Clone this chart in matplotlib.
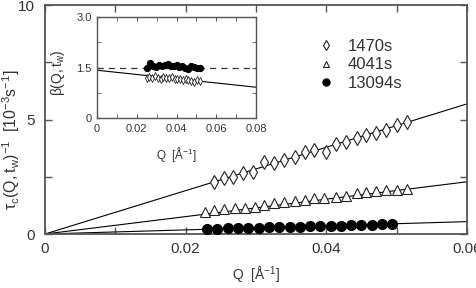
import matplotlib
matplotlib.use('Agg')
import matplotlib.pyplot as plt
from matplotlib.lines import Line2D

plt.rcParams['font.family'] = ['Liberation Sans', 'DejaVu Sans']
plt.rcParams['mathtext.fontset'] = 'custom'
plt.rcParams['mathtext.rm'] = 'Liberation Sans'
plt.rcParams['mathtext.it'] = 'Liberation Sans'
plt.rcParams['mathtext.default'] = 'regular'

# main panel data: 1/tau_c vs Q  [10^-3 s^-1]
q_1470 = [0.0240, 0.0254, 0.0268, 0.0282, 0.0296, 0.0312, 0.0326, 0.0340, 0.0355, 0.0369,
          0.0383, 0.0399, 0.0414, 0.0428, 0.0443, 0.0457, 0.0471, 0.0485, 0.0501, 0.0515]
rate_1470 = [2.28, 2.43, 2.50, 2.65, 2.72, 3.16, 3.09, 3.23, 3.38, 3.59,
             3.67, 3.59, 3.93, 4.03, 4.18, 4.32, 4.40, 4.54, 4.76, 4.90]

q_4041 = [0.0227, 0.0241, 0.0255, 0.0270, 0.0284, 0.0298, 0.0312, 0.0326, 0.0340, 0.0355, 0.0369,
          0.0383, 0.0397, 0.0414, 0.0428, 0.0443, 0.0457, 0.0471, 0.0485, 0.0501, 0.0515]
rate_4041 = [0.97, 1.05, 1.09, 1.12, 1.15, 1.19, 1.27, 1.34, 1.41, 1.45, 1.48,
             1.56, 1.58, 1.63, 1.68, 1.78, 1.82, 1.88, 1.92, 1.93, 1.97]

q_13094 = [0.0231, 0.0245, 0.0260, 0.0275, 0.0289, 0.0305, 0.0319, 0.0333, 0.0348, 0.0362,
           0.0377, 0.0391, 0.0406, 0.0421, 0.0435, 0.0450, 0.0465, 0.0479, 0.0494]
rate_13094 = [0.22, 0.24, 0.25, 0.26, 0.27, 0.28, 0.29, 0.30, 0.31, 0.32,
              0.33, 0.34, 0.35, 0.37, 0.38, 0.39, 0.40, 0.42, 0.44]

# linear fits through origin (slopes)
slope_1470 = 94.7
slope_4041 = 38.0
slope_13094 = 9.0

# inset: stretching exponent beta
q_beta_1470 = [0.0250, 0.0264, 0.0278, 0.0292, 0.0306, 0.0320, 0.0334, 0.0348, 0.0362, 0.0376,
               0.0390, 0.0404, 0.0418, 0.0432, 0.0446, 0.0460, 0.0474, 0.0488, 0.0502, 0.0516]
beta_1470 = [1.20, 1.22, 1.18, 1.25, 1.20, 1.17, 1.22, 1.20, 1.18, 1.21,
             1.17, 1.15, 1.16, 1.13, 1.15, 1.12, 1.10, 1.08, 1.12, 1.10]
q_beta_13094 = [0.0250, 0.0265, 0.0280, 0.0295, 0.0310, 0.0325, 0.0340, 0.0355, 0.0370, 0.0385,
                0.0400, 0.0415, 0.0430, 0.0445, 0.0460, 0.0475, 0.0490, 0.0505, 0.0520]
beta_13094 = [1.50, 1.63, 1.55, 1.52, 1.57, 1.55, 1.58, 1.60, 1.56, 1.54,
              1.57, 1.52, 1.55, 1.50, 1.47, 1.56, 1.52, 1.50, 1.50]
beta_fit_0 = 1.42
beta_fit_slope = -6.3
beta_ref = 1.5

labels = ['1470s', '4041s', '13094s']
main_xticks = [0, 0.02, 0.04, 0.06]
main_xticklabels = ['0', '0.02', '0.04', '0.06']
main_yticks = [0, 5, 10]
inset_xticks = [0, 0.02, 0.04, 0.06, 0.08]
inset_xticklabels = ['0', '0.02', '0.04', '0.06', '0.08']
inset_yticks = [0, 1.5, 3.0]
inset_yticklabels = ['0', '1.5', '3.0']

txt = '#333333'
frame = '#555555'

fig = plt.figure(figsize=(4.77, 2.88), dpi=100)
ax = fig.add_axes([0.0943, 0.1875, 0.8847, 0.7951])

# fit lines
for s in [slope_1470, slope_4041, slope_13094]:
    ax.plot([0, 0.06], [0, s * 0.06], color='black', lw=0.8, zorder=2)

ax.plot(q_1470, rate_1470, 'd', ms=7.6, mfc='white', mec='#222222', mew=0.8, zorder=3)
ax.plot(q_4041, rate_4041, '^', ms=7, mfc='white', mec='#222222', mew=0.8, zorder=3)
ax.plot(q_13094, rate_13094, 'o', ms=7, mfc='black', mec='black', zorder=3)

ax.set_xlim(0, 0.06)
ax.set_ylim(0, 10)
ax.set_xticks(main_xticks)
ax.set_xticklabels(main_xticklabels)
ax.set_yticks(main_yticks)
ax.set_xticks([0.01, 0.03, 0.05], minor=True)
ax.set_yticks([2.5, 7.5], minor=True)
ax.tick_params(which='both', direction='in', top=True, right=True, color=frame,
               labelsize=11, labelcolor=txt)
ax.tick_params(which='major', length=5, width=1)
ax.tick_params(which='minor', length=5, width=1)
ax.tick_params(axis='x', pad=6)
ax.tick_params(axis='y', pad=7)
for sp in ax.spines.values():
    sp.set_color(frame)
    sp.set_linewidth(1.3)

ax.set_xlabel(r'Q  [$\AA^{-1}$]', fontsize=10, color=txt, labelpad=6)
ax.set_ylabel(r'$\tau_c(Q,t_w)^{-1}$  [10$^{-3}$s$^{-1}$]', fontsize=11.5, color=txt)
ax.yaxis.set_label_coords(-0.055, 0.41)

handles = [
    Line2D([], [], ls='none', marker='d', ms=5.3, mfc='white', mec='#222222', mew=0.8),
    Line2D([], [], ls='none', marker='^', ms=5, mfc='white', mec='#222222', mew=0.8),
    Line2D([], [], ls='none', marker='o', ms=5, mfc='black', mec='black'),
]
leg = ax.legend(handles, labels, loc='upper left', bbox_to_anchor=(0.646, 0.852),
                frameon=False, fontsize=12, labelspacing=0.21, handlelength=1.0,
                handletextpad=0.8, borderpad=0, borderaxespad=0)
for t in leg.get_texts():
    t.set_color(txt)

# inset
ins = fig.add_axes([0.2034, 0.590, 0.3333, 0.351])
ins.plot([0, 0.08], [beta_fit_0, beta_fit_0 + beta_fit_slope * 0.08], color='black', lw=0.8)
ins.axhline(beta_ref, color='#333333', lw=0.9, ls=(0, (5, 4)))
ins.plot(q_beta_1470, beta_1470, 'd', ms=3.6, mfc='white', mec='#222222', mew=0.6, zorder=3)
ins.plot(q_beta_13094, beta_13094, 'o', ms=4.2, mfc='black', mec='black', zorder=4)
ins.set_xlim(0, 0.08)
ins.set_ylim(0, 3.0)
ins.set_xticks(inset_xticks)
ins.set_xticklabels(inset_xticklabels)
ins.set_yticks(inset_yticks)
ins.set_yticklabels(inset_yticklabels)
ins.set_xticks([0.01, 0.03, 0.05, 0.07], minor=True)
ins.set_yticks([0.75, 2.25], minor=True)
ins.tick_params(which='both', direction='in', top=True, right=True, color=frame,
                labelsize=8, labelcolor=txt, length=3, pad=4)
for sp in ins.spines.values():
    sp.set_color(frame)
    sp.set_linewidth(1.0)
ins.set_xlabel(r'Q  [$\AA^{-1}$]', fontsize=8.5, color=txt, labelpad=8)
ins.set_ylabel(r'$\beta(Q,t_w)$', fontsize=10, color=txt)
ins.yaxis.set_label_coords(-0.19, 0.45)

fig.savefig('out.png', dpi=100)
